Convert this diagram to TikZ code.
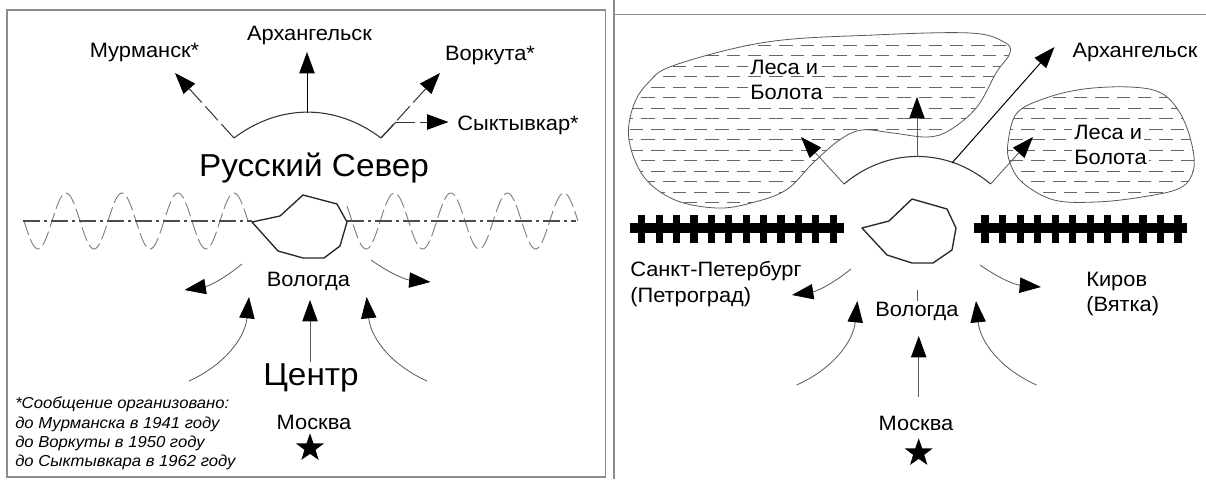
\documentclass[tikz,border=0pt]{standalone}
\usepackage{fontspec}
\setmainfont[FakeStretch=1.05]{Liberation Sans}
\usetikzlibrary{arrows.meta,shapes.geometric}
\definecolor{linegray}{gray}{0.35}
\definecolor{framegray}{gray}{0.55}
\tikzset{
  lbl/.style={inner sep=0pt,font=\fontsize{15.6pt}{18pt}\selectfont},
  big/.style={inner sep=0pt,font=\fontsize{23.8pt}{27pt}\selectfont},
  note/.style={inner sep=0pt,anchor=north west,align=left,font=\fontsize{11.9pt}{14.4pt}\selectfont\itshape},
  tip/.style={-{Triangle[length=16pt,width=11.5pt,color=black]}},
  solidarrow/.style={tip,line width=.75pt,draw=black},
  thinarrow/.style={tip,line width=.6pt,draw=linegray},
  dasharrow/.style={tip,line width=.75pt,draw=black!80,dash pattern=on 14pt off 4pt},
  arcline/.style={line width=.8pt,draw=black!80},
  citybound/.style={line width=1pt,draw=black!85,line join=round},
  frameline/.style={line width=1.4pt,draw=framegray},
  axisline/.style={line width=.9pt,draw=black!70,dash pattern=on 13pt off 3pt on 2pt off 3pt},
  waveline/.style={line width=.7pt,draw=black!50,dash pattern=on 11pt off 3.5pt},
  swamp/.style={line width=.6pt,draw=black!65},
  hatchline/.style={line width=.5pt,draw=black!60,dash pattern=on 10pt off 6pt},
  railbar/.style={line width=7pt,draw=black},
  railtie/.style={line width=5.4pt,draw=black},
  starmark/.style={star,star points=5,star point ratio=2.5,fill=black,draw=none,minimum size=22pt,inner sep=0pt},
}
\begin{document}
\begin{tikzpicture}[x=0.75pt,y=-0.75pt]
\useasboundingbox (0,0) rectangle (1206,479);
\fill[white] (0,0) rectangle (1206,479);
% frames
\draw[frameline] (7,10) rectangle (605.5,477);
\draw[frameline] (614,0) -- (614,479);
\draw[frameline] (614,14.5) -- (1206,14.5);

% ---------- LEFT PANEL ----------
\node[lbl] (arkhL) at (309.5,35) {Архангельск};
\node[lbl] (murm) at (144.5,52) {Мурманск*};
\node[lbl] (vork) at (490,55) {Воркута*};
\node[lbl] (sykt) at (518,125) {Сыктывкар*};
\node[big] (north) at (314,168) {Русский Север};
\node[lbl] (volL) at (308.5,281) {Вологда};
\node[big] (center) at (311,378) {Центр};
\node[lbl] (moskL) at (314,422) {Москва};
\node[starmark] (starL) at (310,448) {};
\node[note] (noteL) at (15,397) {*Сообщение организовано:\\до Мурманска в 1941 году\\до Воркуты в 1950 году\\до Сыктывкара в 1962 году};

\coordinate (aL) at (234,138);
\coordinate (bL) at (381,138);
\coordinate (pL) at (307,113);
\coordinate (tArkhL) at (307,52);
\coordinate (tMurm) at (175,73);
\coordinate (tVork) at (440,73);
\coordinate (sC) at (396,122);
\coordinate (tSykt) at (448.5,122);
\draw[arcline] (aL) to[bend left=37] (bL);
\draw[solidarrow] (pL) -- (tArkhL);
\draw[dasharrow] (aL) -- (tMurm);
\draw[dasharrow] (bL) -- (tVork);
\draw[dasharrow] (sC) -- (tSykt);
\draw[arcline] (bL) -- (sC);

% river / front
\draw[waveline] plot[domain=24:248,samples=160] (\x,{221+28*sin((\x-24)/56*360)});
\draw[waveline] plot[domain=347:578,samples=160] (\x,{221+28*sin((\x-352)/56.5*360)});
\coordinate (axA) at (23,221);
\coordinate (axB) at (252,221);
\coordinate (axC) at (347,221);
\coordinate (axD) at (576,221);
\draw[axisline] (axA) -- (axB);
\draw[axisline] (axC) -- (axD);
\draw[citybound] (252,222) -- (280,216) -- (303,195) -- (337,204) -- (347,222) -- (340,246) -- (324,258) -- (303,258) -- (278,251) -- cycle;

\coordinate (s1L) at (242,264);
\coordinate (t1L) at (184.5,290);
\coordinate (s2L) at (371,260);
\coordinate (t2L) at (430.5,282);
\coordinate (s3L) at (189,381);
\coordinate (t3L) at (249,297);
\coordinate (s4L) at (310,362);
\coordinate (t4L) at (310,300);
\coordinate (s5L) at (427,381);
\coordinate (t5L) at (366.6,297);
\draw[thinarrow] (s1L) to[bend left=15] (t1L);
\draw[thinarrow] (s2L) to[bend right=15] (t2L);
\draw[thinarrow] (s3L) to[bend right=30] (t3L);
\draw[thinarrow] (s4L) -- (t4L);
\draw[thinarrow] (s5L) to[bend left=30] (t5L);

% ---------- RIGHT PANEL ----------
% left swamp
\begin{scope}
\clip plot[smooth cycle,tension=.6] coordinates {(675,65)(767,42)(874,35)(970,33)(1004,42)(1010,53)(996,73)(977,107)(950,130)(927.5,137)(893,133)(862,130)(839.5,140)(813,163)(786,190)(751,203)(717,208)(675,200)(644,177)(629,140)(633,107)(648,83)};
\foreach \r [count=\i] in {45,55.5,66,76.5,87,97.5,108,118.5,129,139.5,150,160.5,171,181.5,192,202.5}{
  \pgfmathsetmacro{\sh}{mod(\i,2)*10}
  \draw[hatchline] (620+\sh,\r) -- (1020,\r);
}
\end{scope}
\draw[swamp] plot[smooth cycle,tension=.6] coordinates {(675,65)(767,42)(874,35)(970,33)(1004,42)(1010,53)(996,73)(977,107)(950,130)(927.5,137)(893,133)(862,130)(839.5,140)(813,163)(786,190)(751,203)(717,208)(675,200)(644,177)(629,140)(633,107)(648,83)};
% right swamp
\begin{scope}
\clip plot[smooth cycle,tension=.6] coordinates {(1008,143)(1017,113)(1046,98)(1084,89)(1130,87)(1161,93)(1180,113)(1191.5,143)(1193.5,170)(1180,188)(1142,197)(1096,202)(1054,200)(1023,183)(1010,163)};
\foreach \r [count=\i] in {97.5,108,118.5,129,139.5,150,160.5,171,181.5,192}{
  \pgfmathsetmacro{\sh}{mod(\i,2)*10}
  \draw[hatchline] (1000+\sh,\r) -- (1200,\r);
}
\end{scope}
\draw[swamp] plot[smooth cycle,tension=.6] coordinates {(1008,143)(1017,113)(1046,98)(1084,89)(1130,87)(1161,93)(1180,113)(1191.5,143)(1193.5,170)(1180,188)(1142,197)(1096,202)(1054,200)(1023,183)(1010,163)};

\node[lbl,anchor=west,fill=white,inner sep=1.5pt] (les1) at (748,67) {Леса и};
\node[lbl,anchor=west,fill=white,inner sep=1.5pt] (bol1) at (748,92) {Болота};
\node[lbl,anchor=west,fill=white,inner sep=1.5pt] (les2) at (1072,132) {Леса и};
\node[lbl,anchor=west,fill=white,inner sep=1.5pt] (bol2) at (1072,157) {Болота};
\node[lbl] (arkhR) at (1135,52) {Архангельск};
\node[lbl,anchor=west] (spb1) at (630,271) {Санкт-Петербург};
\node[lbl,anchor=west] (spb2) at (630,297) {(Петроград)};
\node[lbl,anchor=west] (kir1) at (1086,281) {Киров};
\node[lbl,anchor=west] (kir2) at (1086,306) {(Вятка)};
\node[lbl] (volR) at (917,311) {Вологда};
\node[lbl] (moskR) at (916,423) {Москва};
\node[starmark] (starR) at (918.7,453) {};

\coordinate (aR) at (844,184);
\coordinate (bR) at (990.6,184);
\coordinate (pR) at (917,157);
\coordinate (qR) at (952,163);
\coordinate (tUp) at (917,97);
\coordinate (tArkhR) at (1054.5,47);
\coordinate (tLs) at (801,137);
\coordinate (tRs) at (1033,137);
\draw[arcline] (aR) to[bend left=40] (bR);
\draw[thinarrow] (aR) -- (tLs);
\draw[thinarrow] (pR) -- (tUp);
\draw[solidarrow] (qR) -- (tArkhR);
\draw[thinarrow] (bR) -- (tRs);

% rails
\coordinate (rA) at (630,228);
\coordinate (rB) at (844,228);
\coordinate (rC) at (974,228);
\coordinate (rD) at (1187,228);
\draw[railbar] (rA) -- (rB);
\draw[railbar] (rC) -- (rD);
\foreach \k in {0,...,11}{
  \draw[railtie] ({641.7+\k*17.4},214.5) -- ({641.7+\k*17.4},242.5);
  \draw[railtie] ({985+\k*17.55},214.5) -- ({985+\k*17.55},242.5);
}
\draw[citybound] (862,228) -- (889,221) -- (912,199) -- (947,209) -- (956,228) -- (952,250) -- (933,263) -- (912,263) -- (887,255) -- cycle;

\coordinate (s1R) at (851,269);
\coordinate (t1R) at (792,295);
\coordinate (s2R) at (980,265);
\coordinate (t2R) at (1041,287);
\coordinate (s3R) at (796.6,385);
\coordinate (t3R) at (857.4,301);
\coordinate (s4R) at (918.7,397);
\coordinate (t4R) at (918.7,336);
\coordinate (s5R) at (1036.5,385);
\coordinate (t5R) at (976,301);
\coordinate (tickA) at (917,290);
\coordinate (tickB) at (917,301);
\draw[thinarrow] (s1R) to[bend left=15] (t1R);
\draw[thinarrow] (s2R) to[bend right=15] (t2R);
\draw[thinarrow] (s3R) to[bend right=30] (t3R);
\draw[thinarrow] (s4R) -- (t4R);
\draw[thinarrow] (s5R) to[bend left=30] (t5R);
\draw[line width=.5pt,draw=linegray] (tickA) -- (tickB);
\end{tikzpicture}
\end{document}
